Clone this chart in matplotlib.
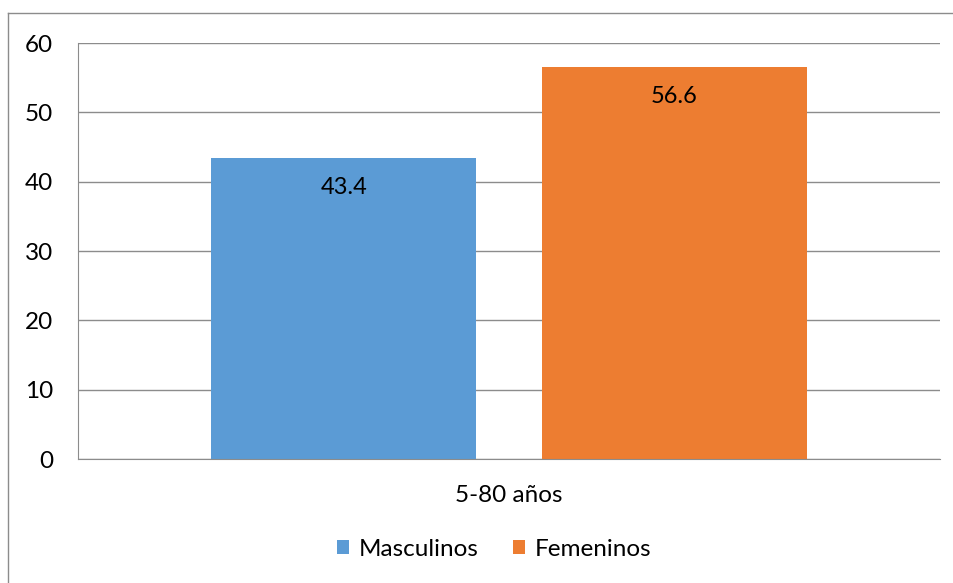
import matplotlib.pyplot as plt
from matplotlib.lines import Line2D
from matplotlib.patches import Patch

plt.rcParams['font.family'] = ['Lato', 'DejaVu Sans']

categories = ['5-80 años']
series = ['Masculinos', 'Femeninos']
values = [43.4, 56.6]
colors = ['#5B9BD5', '#ED7D31']
yticks = [0, 10, 20, 30, 40, 50, 60]

W, H = 954, 583
fig = plt.figure(figsize=(W / 100, H / 100), dpi=100)
ax = fig.add_axes([78 / W, 1 - 459 / H, (940 - 78) / W, (459 - 43) / H])

width_bar = 0.3074
offsets = [-0.1915, 0.1915]
for name, val, col, off in zip(series, values, colors, offsets):
    ax.bar(off, val, width=width_bar, color=col, label=name, zorder=2)
    ax.text(off, val - 4.3, f"{val}", ha='center', va='center', fontsize=17, color='black', zorder=3)

ax.set_xlim(-0.5, 0.5)
ax.set_ylim(0, 60)
ax.set_yticks(yticks)
ax.set_yticklabels([str(t) for t in yticks], fontsize=17.5)
ax.yaxis.grid(True, color='#8c8c8c', linewidth=1.0, zorder=0)
ax.set_axisbelow(True)
ax.tick_params(axis='y', length=0, pad=18)
ax.set_xticks([0])
ax.set_xticklabels(categories, fontsize=17.5)
ax.tick_params(axis='x', length=0, pad=19)
for side in ['top', 'right']:
    ax.spines[side].set_visible(False)
ax.spines['left'].set_color('#8c8c8c')
ax.spines['bottom'].set_color('#8c8c8c')

handles = [Patch(facecolor=c, label=s) for s, c in zip(series, colors)]
fig.legend(handles=handles, loc='center', bbox_to_anchor=(494 / W, 1 - 549 / H), ncol=2,
           frameon=False, fontsize=17.5, handlelength=0.5, handleheight=0.5,
           handletextpad=0.4, columnspacing=1.4)

# chart frame, left and top edges
fig.add_artist(Line2D([8 / W, 8 / W], [0, 1 - 13 / H], transform=fig.transFigure, color='#8c8c8c', linewidth=1))
fig.add_artist(Line2D([8 / W, 1], [1 - 13 / H, 1 - 13 / H], transform=fig.transFigure, color='#8c8c8c', linewidth=1))

fig.savefig('out.png', dpi=100)
